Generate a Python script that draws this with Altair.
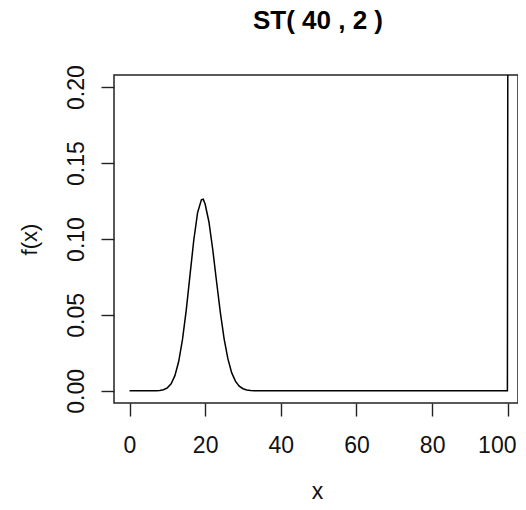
import altair as alt
import pandas as pd

# values
x_vals = [0, 2, 4, 6, 7, 8, 9, 10, 11, 12, 13, 14, 15, 16, 17, 18, 19, 19.5,
          20, 21, 22, 23, 24, 25, 26, 27, 28, 29, 30, 31, 32, 33, 34, 40, 50,
          60, 70, 80, 90, 99.9, 100]
y_vals = [0.0, 0.0, 0.0, 0.0, 0.0001, 0.0002, 0.0007, 0.0020, 0.0047, 0.0100,
          0.0193, 0.0337, 0.0532, 0.0764, 0.0995, 0.1174, 0.1258, 0.1262,
          0.1229, 0.1112, 0.0931, 0.0722, 0.0518, 0.0344, 0.0212, 0.0120,
          0.0064, 0.0031, 0.0014, 0.0006, 0.0002, 0.0001, 0.0, 0.0, 0.0,
          0.0, 0.0, 0.0, 0.0, 0.0, 1.0]
x_ticks = [0, 20, 40, 60, 80, 100]
y_ticks = [0.0, 0.05, 0.10, 0.15, 0.20]
title_text = "ST( 40 , 2 )"

df = pd.DataFrame({"x": x_vals, "y": y_vals})

FONT = "Liberation Sans"

chart = alt.Chart(df).mark_line(color="black", strokeWidth=1.5, clip=True).encode(
    x=alt.X("x:Q",
            scale=alt.Scale(domain=[-4.1, 102.7], nice=False, zero=False),
            axis=alt.Axis(values=x_ticks, format="d", title="x", domain=False,
                          grid=False, tickSize=13, tickColor="#222", tickWidth=1.4,
                          labelFont=FONT, labelFontSize=23, labelColor="#111",
                          labelBaseline="alphabetic", labelPadding=36,
                          labelOffset={"condition": {"test": "datum.value == 100",
                                                     "value": -11},
                                       "value": 0},
                          labelFlush=False, labelOverlap=False,
                          titleFont=FONT, titleFontSize=23, titleFontWeight="normal",
                          titleColor="#111", titleBaseline="alphabetic",
                          titleX=203, titleY=95, titleAlign="center")),
    y=alt.Y("y:Q",
            scale=alt.Scale(domain=[-0.008, 0.208], nice=False, zero=False, clamp=True),
            axis=alt.Axis(values=y_ticks, format=".2f", title="f(x)", domain=False,
                          grid=False, tickSize=13, tickColor="#222", tickWidth=1.4,
                          labelFont=FONT, labelFontSize=23, labelColor="#111",
                          labelAngle=270, labelAlign="center",
                          labelBaseline="alphabetic", labelPadding=18,
                          labelFlush=False, labelOverlap=False,
                          titleFont=FONT, titleFontSize=22, titleFontWeight="normal",
                          titleColor="#111", titleAngle=270, titleAlign="center",
                          titleBaseline="alphabetic", titleX=-78, titleY=164)),
).properties(
    width=404,
    height=328,
    background="white",
    title=alt.TitleParams(title_text, font=FONT, fontSize=26, fontWeight="bold",
                          color="black", anchor="middle", frame="group",
                          baseline="alphabetic", offset=10, dx=2),
    autosize=alt.AutoSizeParams(type="none"),
    padding={"left": 106, "top": 67, "right": 0, "bottom": 99},
).configure_view(
    stroke="#222", strokeWidth=1.5
)

chart.save("out.html", embed_options={"renderer": "svg", "actions": False})
